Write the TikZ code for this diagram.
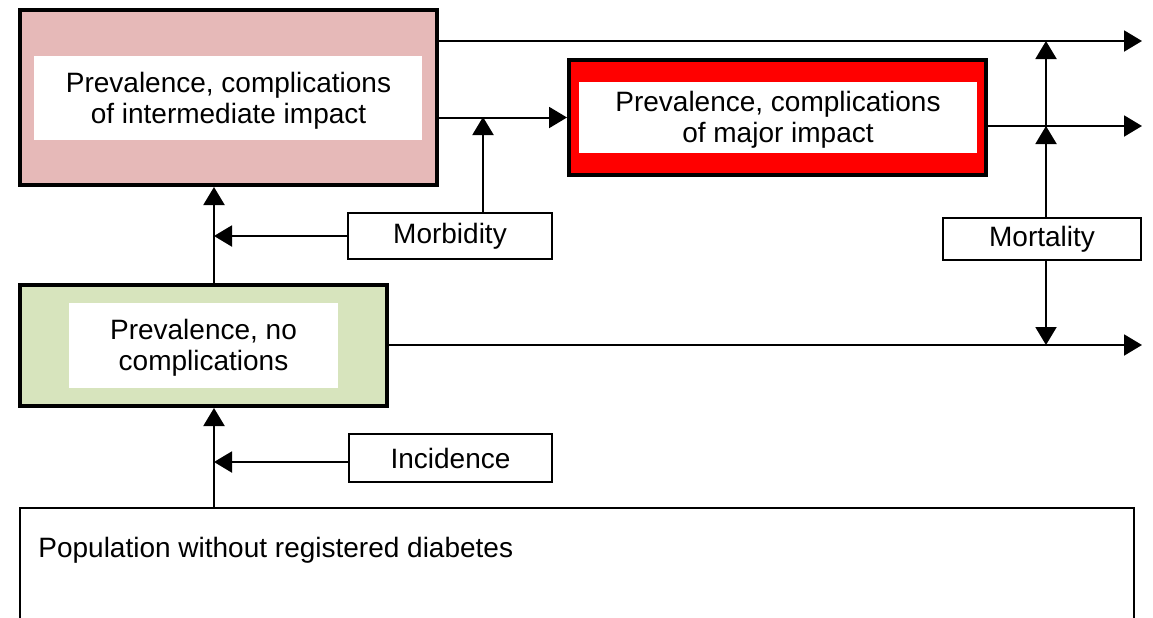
\documentclass[tikz,border=0pt]{standalone}
\usepackage{fontspec}
\setmainfont{Liberation Sans}
\usetikzlibrary{arrows.meta,fit}
\definecolor{pinkfill}{HTML}{E6B9B8}
\definecolor{greenfill}{HTML}{D7E4BD}
\definecolor{redfill}{HTML}{FF0000}
\begin{document}
\begin{tikzpicture}[x=0.5pt,y=-0.5pt,
  bigbox/.style={draw=black, line width=2pt, inner sep=0pt},
  innerbox/.style={fill=white, inner sep=0pt},
  txt/.style={font=\fontsize{14}{15.5}\selectfont, align=center, text=black, inner sep=0pt},
  labelbox/.style={draw=black, line width=1pt, fill=white, inner sep=0pt, font=\fontsize{14}{15.5}\selectfont},
  conn/.style={line width=1pt},
  arr/.style={conn, -{Triangle[length=9pt,width=10.5pt]}}
]
\useasboundingbox (0,0) rectangle (1153,617);

% big boxes
\node[bigbox, fill=pinkfill, fit={(20,10) (437,185)}] (pink) {};
\node[innerbox, fit={(34,56) (422,140)}] (pinkin) {};
\node[txt] (pinktext) at (228.5,101) {Prevalence, complications\\of intermediate impact};

\node[bigbox, fill=redfill, fit={(569,60) (986,175)}] (red) {};
\node[innerbox, fit={(579,82) (977,153)}] (redin) {};
\node[txt] (redtext) at (778,120) {Prevalence, complications\\of major impact};

\node[bigbox, fill=greenfill, fit={(20,285) (387,406)}] (green) {};
\node[innerbox, fit={(69,303) (338,388)}] (greenin) {};
\node[txt] (greentext) at (203.5,348) {Prevalence, no\\complications};

% population box (open at the bottom)
\node[draw=black, line width=1pt, inner sep=0pt, fit={(20,508) (1134,660)}] (pop) {};
\node[txt, anchor=base west] (poptext) at (38,557) {Population without registered diabetes};

% label boxes
\node[labelbox, minimum width=102pt, minimum height=23pt] (morb) at (450,236) {\raisebox{-1pt}{Morbidity}};
\node[labelbox, minimum width=101.5pt, minimum height=24pt] (inc) at (450.5,458) {Incidence};
\node[labelbox, minimum width=99pt, minimum height=21pt] (mort) at (1042,239) {Mortality};

% helper coordinates
\coordinate (outTop) at (1142,41);
\coordinate (outMid) at (1142,126);
\coordinate (outLow) at (1142,345);
\coordinate (vx) at (214,0);
\coordinate (mx) at (1046,0);
\coordinate (midline) at (483,117);
\coordinate (incy) at (0,462);

% outflows
\draw[arr] (pink.east |- outTop) -- (outTop);
\draw[arr] (pink.east |- red.west) -- (red.west);
\draw[arr] (red.east |- outMid) -- (outMid);
\draw[arr] (green.east |- outLow) -- (outLow);

% vertical flows on the left
\draw[arr] (green.north -| vx) -- (pink.south -| vx);
\draw[arr] (pop.north -| vx) -- (green.south -| vx);

% morbidity
\draw[arr] (morb.west) -- (morb.west -| vx);
\draw[arr] (morb.north -| midline) -- (midline);

% incidence
\draw[arr] (inc.west |- incy) -- (vx |- incy);

% mortality
\draw[arr] (mort.north -| mx) -- (outTop -| mx);
\draw[arr] (mort.north -| mx) -- (outMid -| mx);
\draw[arr] (mort.south -| mx) -- (outLow -| mx);
\end{tikzpicture}
\end{document}
